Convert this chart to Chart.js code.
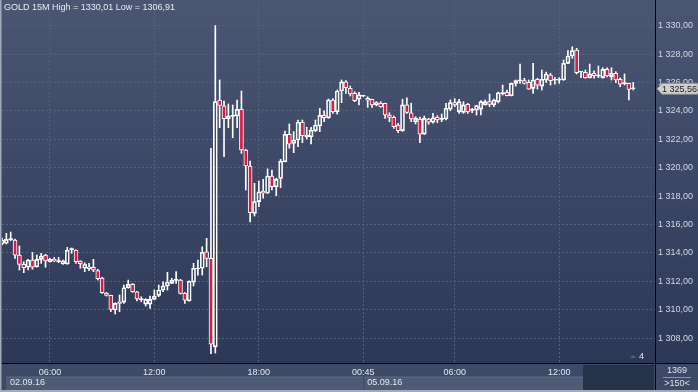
<!DOCTYPE html>
<html>
<head>
<meta charset="utf-8">
<script src="https://cdn.jsdelivr.net/npm/chart.js@4.4.1/dist/chart.umd.min.js"></script>
<style>
  html, body { margin: 0; padding: 0; background: #2c3855; }
  #wrap { width: 698px; height: 392px; }
</style>
</head>
<body>
<div id="wrap"><canvas id="gold" width="698" height="392"></canvas></div>
<script>
// GOLD 15M candles, 02.09.16 - 05.09.16
const openP = [
  1314.63, 1314.68, 1314.94, 1314.91, 1313.85, 1313.20, 1312.99, 1313.50, 1313.03, 1313.55,
  1313.85, 1313.38, 1313.55, 1313.43, 1313.24, 1313.22, 1314.23, 1314.20, 1313.43, 1312.92,
  1313.03, 1312.99, 1312.75, 1312.23, 1311.18, 1311.01, 1309.98, 1310.45, 1310.54, 1311.55,
  1311.79, 1311.27, 1310.75, 1310.40, 1310.40, 1310.73, 1311.01, 1311.39, 1311.67, 1311.86,
  1312.07, 1312.09, 1311.15, 1310.63, 1311.95, 1312.87, 1312.92, 1314.08, 1313.62, 1307.39,
  1324.77, 1324.35, 1323.45, 1323.62, 1323.64, 1324.11, 1321.25, 1320.12, 1316.79, 1317.61,
  1318.36, 1318.20, 1319.42, 1318.66, 1319.25, 1320.42, 1322.35, 1321.72, 1321.95, 1323.20,
  1322.18, 1322.18, 1322.61, 1322.94, 1323.69, 1323.52, 1324.77, 1323.94, 1325.40, 1326.04,
  1325.59, 1325.24, 1324.82, 1325.03, 1324.89, 1324.82, 1324.42, 1324.54, 1324.54, 1323.71,
  1323.55, 1323.01, 1322.61, 1324.42, 1323.87, 1323.24, 1323.43, 1322.37, 1323.43, 1323.20,
  1323.55, 1323.41, 1323.43, 1324.13, 1324.58, 1323.95, 1323.90, 1324.46, 1324.04, 1324.06,
  1324.13, 1324.42, 1324.65, 1324.42, 1324.65, 1325.22, 1325.31, 1325.07, 1325.94, 1326.11,
  1326.13, 1326.01, 1325.59, 1326.23, 1325.75, 1326.18, 1326.53, 1326.16, 1326.16, 1326.18,
  1327.35, 1327.87, 1328.29, 1326.74, 1326.72, 1326.34, 1326.65, 1326.46, 1326.34, 1326.93,
  1326.41, 1326.65, 1326.23, 1325.92, 1325.94, 1325.58
];
const highP = [
  1315.05, 1315.38, 1315.47, 1314.98, 1314.49, 1313.38, 1313.55, 1314.04, 1313.85, 1313.97,
  1313.90, 1313.62, 1313.69, 1313.69, 1313.50, 1314.39, 1314.35, 1314.22, 1313.45, 1313.31,
  1313.27, 1313.55, 1312.85, 1312.28, 1311.22, 1311.04, 1310.50, 1311.04, 1311.74, 1312.09,
  1311.85, 1311.30, 1310.92, 1310.78, 1310.96, 1311.39, 1311.74, 1311.97, 1312.63, 1312.21,
  1312.68, 1312.14, 1311.20, 1312.04, 1313.27, 1313.50, 1314.44, 1315.03, 1321.37, 1330.01,
  1326.18, 1324.70, 1324.49, 1324.42, 1324.77, 1325.40, 1321.30, 1320.47, 1318.90, 1319.06,
  1319.18, 1319.92, 1319.84, 1319.27, 1320.59, 1322.58, 1323.08, 1322.54, 1323.36, 1323.36,
  1322.85, 1322.85, 1323.36, 1324.18, 1324.01, 1324.84, 1324.86, 1325.47, 1326.18, 1326.14,
  1325.75, 1325.35, 1325.31, 1325.10, 1325.00, 1324.84, 1324.65, 1324.65, 1324.56, 1323.87,
  1323.64, 1323.13, 1324.82, 1324.93, 1324.54, 1323.59, 1323.57, 1323.64, 1323.48, 1323.83,
  1323.66, 1323.78, 1324.54, 1324.77, 1324.86, 1324.82, 1324.65, 1324.53, 1324.18, 1324.40,
  1324.73, 1324.77, 1325.19, 1324.84, 1325.33, 1325.82, 1325.47, 1325.97, 1326.18, 1327.30,
  1326.30, 1326.18, 1327.35, 1326.30, 1326.88, 1326.74, 1326.65, 1326.34, 1326.34, 1327.58,
  1328.24, 1328.52, 1328.41, 1326.78, 1326.88, 1327.30, 1326.83, 1327.16, 1327.04, 1327.04,
  1327.04, 1326.76, 1326.32, 1326.60, 1325.96, 1326.01
];
const lowP = [
  1314.56, 1314.63, 1314.86, 1313.62, 1312.80, 1312.61, 1312.80, 1312.85, 1312.99, 1313.27,
  1312.99, 1313.35, 1313.38, 1313.31, 1313.20, 1313.20, 1313.97, 1313.27, 1312.92, 1312.68,
  1312.75, 1312.68, 1312.09, 1311.15, 1310.96, 1309.86, 1309.70, 1309.86, 1310.45, 1311.51,
  1311.22, 1310.63, 1310.56, 1310.26, 1310.10, 1310.72, 1310.92, 1311.27, 1311.39, 1311.84,
  1311.86, 1311.10, 1310.45, 1310.60, 1311.67, 1312.44, 1312.44, 1313.03, 1306.91, 1306.95,
  1322.82, 1320.77, 1322.82, 1322.11, 1322.82, 1321.01, 1318.43, 1316.18, 1316.60, 1317.25,
  1317.85, 1318.18, 1318.43, 1318.03, 1318.59, 1320.40, 1321.37, 1321.06, 1321.48, 1321.76,
  1322.02, 1321.67, 1322.54, 1322.54, 1323.24, 1323.48, 1323.83, 1323.78, 1324.58, 1325.24,
  1325.05, 1324.65, 1324.42, 1325.00, 1324.25, 1324.25, 1324.35, 1324.25, 1323.48, 1323.24,
  1322.77, 1322.46, 1322.55, 1323.83, 1323.24, 1323.08, 1321.76, 1322.35, 1323.06, 1323.13,
  1323.17, 1323.24, 1323.36, 1324.01, 1324.30, 1323.83, 1323.83, 1323.83, 1323.87, 1323.71,
  1323.71, 1324.40, 1324.30, 1324.30, 1324.56, 1325.12, 1325.05, 1325.05, 1325.75, 1325.94,
  1325.89, 1325.52, 1325.24, 1325.54, 1325.47, 1326.01, 1325.82, 1325.89, 1325.94, 1326.15,
  1327.33, 1327.70, 1326.60, 1326.34, 1326.30, 1326.32, 1326.30, 1326.34, 1326.30, 1326.39,
  1326.18, 1325.99, 1325.70, 1325.82, 1324.77, 1325.47
];
const closeP = [
  1314.91, 1314.96, 1314.98, 1313.85, 1313.20, 1312.96, 1313.50, 1312.99, 1313.55, 1313.78,
  1313.43, 1313.55, 1313.43, 1313.39, 1313.45, 1314.20, 1314.27, 1313.38, 1313.24, 1313.20,
  1312.89, 1312.80, 1312.18, 1311.20, 1311.01, 1310.03, 1310.45, 1310.55, 1311.55, 1311.79,
  1311.27, 1310.77, 1310.71, 1310.73, 1310.73, 1310.96, 1311.39, 1311.67, 1311.95, 1312.07,
  1312.11, 1311.15, 1310.68, 1312.00, 1312.92, 1312.91, 1314.04, 1313.62, 1307.58, 1324.65,
  1324.39, 1323.45, 1323.64, 1323.66, 1324.11, 1321.25, 1320.12, 1316.83, 1317.61, 1318.31,
  1318.20, 1319.42, 1318.66, 1319.18, 1320.47, 1322.35, 1321.65, 1321.95, 1323.20, 1322.25,
  1322.30, 1322.65, 1322.99, 1323.69, 1323.52, 1324.77, 1323.94, 1325.40, 1326.04, 1325.63,
  1325.19, 1324.72, 1325.14, 1325.07, 1324.75, 1324.42, 1324.58, 1324.30, 1323.71, 1323.55,
  1322.89, 1322.61, 1324.42, 1323.90, 1323.43, 1323.48, 1322.37, 1323.48, 1323.20, 1323.52,
  1323.36, 1323.45, 1324.18, 1324.58, 1324.42, 1324.65, 1324.42, 1323.94, 1324.08, 1324.37,
  1324.65, 1324.65, 1324.46, 1324.77, 1325.28, 1325.26, 1325.07, 1325.94, 1326.13, 1326.15,
  1325.94, 1325.54, 1326.18, 1325.82, 1326.23, 1326.60, 1326.13, 1326.20, 1326.20, 1327.35,
  1327.87, 1328.24, 1326.69, 1326.78, 1326.34, 1326.60, 1326.48, 1326.50, 1326.93, 1326.46,
  1326.65, 1326.18, 1325.89, 1325.96, 1325.52, 1325.56
];

const slotCount = 151;                 // visible bar slots across the plot
const priceTicks = [1308, 1310, 1312, 1314, 1316, 1318, 1320, 1322, 1324, 1326, 1328, 1330];
const timeTickIndex = [11, 35, 59, 83, 104, 128];
const timeTickText = ['06:00', '12:00', '18:00', '00:45', '06:00', '12:00'];
const dateText = ['02.09.16', '05.09.16'];
const lastPrice = 1325.56;

const FONT = '"Liberation Sans", Arial, sans-serif';
const RED = '#dc1a46';

function fmtPrice(v) {
  const s = v.toFixed(2).replace('.', ',');
  return s.slice(0, 1) + ' ' + s.slice(1);
}

const slots = Array.from({ length: slotCount }, (_, i) => i);
const lowWick = [], highWick = [], bodies = [], bodyColors = [];
openP.forEach((o, i) => {
  const c = closeP[i];
  const bLo = Math.min(o, c), bHi = Math.max(o, c);
  lowWick.push(lowP[i] < bLo - 0.005 ? [lowP[i], bLo] : null);
  highWick.push(highP[i] > bHi + 0.005 ? [bHi, highP[i]] : null);
  bodies.push([o, c]);
  if (c - o > 0.05) bodyColors.push('rgba(0,0,0,0)');
  else if (o - c > 0.05) bodyColors.push(RED);
  else bodyColors.push('#ffffff');
});

const frame = {
  id: 'frame',
  beforeDraw(chart) {
    const ctx = chart.ctx;
    const W = chart.width, H = chart.height;
    const bottom = chart.chartArea.bottom;
    ctx.save();
    const grad = ctx.createLinearGradient(0, 0, 0, bottom);
    grad.addColorStop(0, '#4a5672');
    grad.addColorStop(1, '#2c3856');
    ctx.fillStyle = grad;
    ctx.fillRect(0, 0, W, bottom);

    // time axis band
    ctx.fillStyle = '#3e4a65';
    ctx.fillRect(0, bottom, W, H - bottom);

    // date row boxes
    const split = chart.scales.x.getPixelForValue(83);
    ctx.fillStyle = '#4d5b76';
    ctx.fillRect(6, 377, split - 6, 13);
    ctx.fillRect(split + 1, 377, 582 - split, 13);
    ctx.fillStyle = '#5f6d88';
    ctx.fillRect(6, 376.5, split - 6, 1);
    ctx.fillRect(split + 1, 376.5, 582 - split, 1);
    ctx.fillStyle = '#27324b';
    ctx.fillRect(583, 365, 71, 25);
    ctx.restore();
  },
  afterDraw(chart) {
    const ctx = chart.ctx;
    const W = chart.width, H = chart.height;
    const area = chart.chartArea;
    const y = chart.scales.y;
    ctx.save();

    // separators
    ctx.strokeStyle = '#000000';
    ctx.lineWidth = 1;
    ctx.beginPath();
    ctx.moveTo(area.right + 0.5, 0);
    ctx.lineTo(area.right + 0.5, H);
    ctx.moveTo(0, area.bottom + 0.5);
    ctx.lineTo(W, area.bottom + 0.5);
    ctx.stroke();

    // outer frame
    ctx.fillStyle = '#a3abba';
    ctx.fillRect(0, 0, 1.5, H);
    ctx.fillRect(0, H - 2, W, 2);

    // title
    ctx.font = '9px ' + FONT;
    ctx.fillStyle = '#e8ecf3';
    ctx.textBaseline = 'middle';
    ctx.textAlign = 'left';
    ctx.fillText('GOLD 15M High = 1330,01 Low = 1306,91', 4, 8);

    // dates
    ctx.fillStyle = '#e3e8f0';
    ctx.fillText(dateText[0], 10, 383);
    ctx.fillText(dateText[1], chart.scales.x.getPixelForValue(83) + 4, 383);

    // small indicator
    ctx.fillStyle = '#56627c';
    ctx.beginPath();
    ctx.moveTo(630, 358);
    ctx.lineTo(633, 355);
    ctx.lineTo(636, 358);
    ctx.closePath();
    ctx.fill();
    ctx.fillStyle = '#e3e8f0';
    ctx.fillText('4', 639, 357);

    // last price marker
    const py = y.getPixelForValue(lastPrice);
    ctx.fillStyle = '#cfcfcf';
    ctx.strokeStyle = '#8c8c8c';
    ctx.beginPath();
    ctx.moveTo(657, py);
    ctx.lineTo(662, py - 5.5);
    ctx.lineTo(698, py - 5.5);
    ctx.lineTo(698, py + 5.5);
    ctx.lineTo(662, py + 5.5);
    ctx.closePath();
    ctx.fill();
    ctx.stroke();
    ctx.fillStyle = '#1c1c1c';
    ctx.fillText(fmtPrice(lastPrice), 662, py + 0.5);

    // corner box
    ctx.textAlign = 'center';
    ctx.fillStyle = '#dde3ec';
    ctx.fillText('1369', 677, 371);
    ctx.fillText('>150<', 677, 384);
    ctx.fillStyle = '#8a94a8';
    ctx.fillRect(663, 377, 28, 1);
    ctx.restore();
  }
};

new Chart(document.getElementById('gold'), {
  type: 'bar',
  data: {
    labels: slots,
    datasets: [
      { data: lowWick, backgroundColor: '#ffffff', barThickness: 1, grouped: false, order: 2 },
      { data: highWick, backgroundColor: '#ffffff', barThickness: 1, grouped: false, order: 2 },
      {
        data: bodies,
        backgroundColor: bodyColors,
        borderColor: '#ffffff',
        borderWidth: 1,
        borderSkipped: false,
        barThickness: 4,
        minBarLength: 1,
        grouped: false,
        order: 1
      }
    ]
  },
  options: {
    responsive: false,
    animation: false,
    devicePixelRatio: 1,
    layout: { padding: { left: 2, right: 0, top: 0, bottom: 0 } },
    plugins: { legend: { display: false }, tooltip: { enabled: false } },
    scales: {
      x: {
        type: 'category',
        offset: false,
        grid: {
          offset: false,
          drawTicks: false,
          color: c => timeTickIndex.includes(c.index) ? '#56627c' : 'rgba(0,0,0,0)'
        },
        border: { display: false, dash: [2, 2] },
        ticks: {
          autoSkip: false,
          maxRotation: 0,
          padding: 4,
          color: '#e3e8f0',
          font: { family: FONT, size: 9 },
          callback: (v, i) => {
            const k = timeTickIndex.indexOf(i);
            return k >= 0 ? timeTickText[k] : '';
          }
        },
        afterFit: s => { s.height = 29; s.paddingLeft = 0; s.paddingRight = 0; }
      },
      y: {
        position: 'right',
        min: 1306.25,
        max: 1331.81,
        afterBuildTicks: s => { s.ticks = priceTicks.map(v => ({ value: v })); },
        grid: { color: '#56627c', drawTicks: false },
        border: { display: false, dash: [2, 2] },
        ticks: {
          padding: 3,
          color: '#d2d9e6',
          font: { family: FONT, size: 9 },
          callback: v => fmtPrice(v)
        },
        afterFit: s => { s.width = 43; s.paddingTop = 0; s.paddingBottom = 0; }
      }
    }
  },
  plugins: [frame]
});
</script>
</body>
</html>
